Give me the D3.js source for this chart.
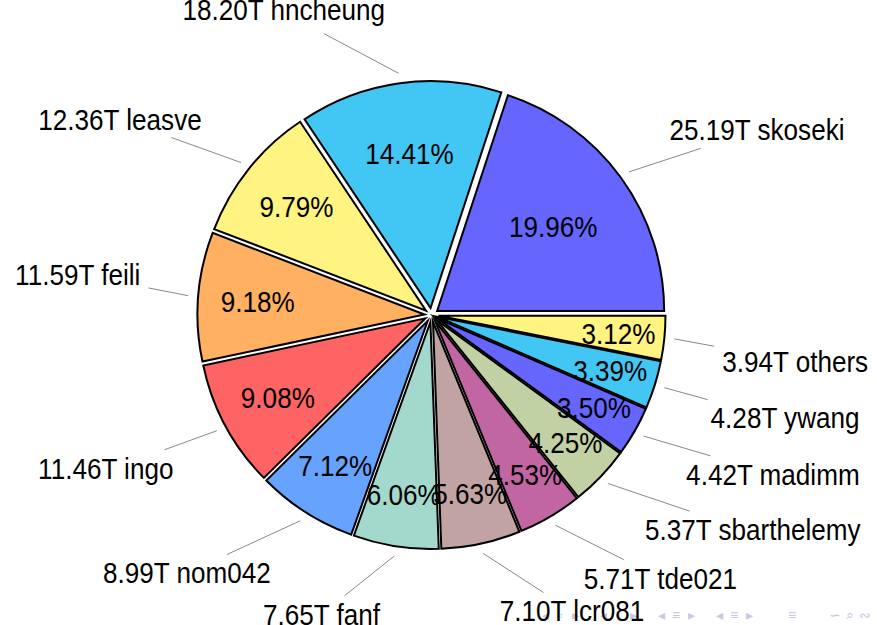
<!DOCTYPE html>
<html>
<head>
<meta charset="utf-8">
<script src="https://cdn.jsdelivr.net/npm/d3@7"></script>
<style>
  body { margin: 0; background: #fff; }
  svg { display: block; }
</style>
</head>
<body>
<div id="chart"></div>
<script>
// slice data, counterclockwise from 3 o'clock
const names = ["skoseki", "hncheung", "leasve", "feili", "ingo", "nom042", "fanf",
  "lcr081", "tde021", "sbarthelemy", "madimm", "ywang", "others"];
const amounts = ["25.19T", "18.20T", "12.36T", "11.59T", "11.46T", "8.99T", "7.65T",
  "7.10T", "5.71T", "5.37T", "4.42T", "4.28T", "3.94T"];
const percents = [19.96, 14.41, 9.79, 9.18, 9.08, 7.12, 6.06, 5.63, 4.53, 4.25, 3.50, 3.39, 3.12];
const colors = ["#6666ff", "#42c6f3", "#fff381", "#ffb061", "#ff6464", "#66a3ff", "#a3d9cc",
  "#c2a3a3", "#c266a3", "#c2d1a3", "#6666ff", "#42c6f3", "#fff381"];
const navGroups = [["◂", "▫", "▸"], ["◂", "▫", "▸"], ["◂", "≡", "▸"], ["◂", "≡", "▸"], ["≡"], ["∽", "⌕", "∾"]];

const width = 877, height = 625;
const cx = 431.5, cy = 315, r = 227;
const explode = 7, pinStart = 10, pinDist = 40, pad = 8;
const fs = 29, sx = 0.9, capH = 0.72 * fs, depth = 0.2 * fs;

const data = names.map((n, i) => ({ name: n, amount: amounts[i], pct: percents[i], color: colors[i] }));

const svg = d3.select("#chart").append("svg")
  .attr("width", width).attr("height", height)
  .style("font-family", "'Liberation Sans', Arial, sans-serif");

// beamer navigation symbols
const navX = d3.scalePoint().domain(d3.range(navGroups.length)).range([560, 850]);
const nav = svg.append("g")
  .attr("font-size", 14)
  .attr("fill", "#c8c8e0")
  .attr("text-anchor", "middle");
navGroups.forEach((g, gi) => {
  g.forEach((s, i) => {
    nav.append("text")
      .attr("x", navX(gi) + (i - (g.length - 1) / 2) * 15)
      .attr("y", 620)
      .text(s);
  });
});

const pie = d3.pie().sort(null).value(d => d.pct)
  .startAngle(Math.PI / 2).endAngle(Math.PI / 2 - 2 * Math.PI);
const arc = d3.arc().innerRadius(0).outerRadius(r);

const arcs = pie(data).map(a => {
  const phi = (a.startAngle + a.endAngle) / 2;
  const dir = [Math.sin(phi), -Math.cos(phi)];
  let theta = (90 - phi * 180 / Math.PI) % 360;
  if (theta < 0) theta += 360;
  const span = Math.abs(a.endAngle - a.startAngle) * 180 / Math.PI;
  const apex = [cx + explode * dir[0], cy + explode * dir[1]];
  const f = 0.8 + Math.max(Math.min((span - 10) / 110 * -0.3, 0), -0.5);
  return { ...a, dir, theta, apex, f };
});

svg.append("g").selectAll("path")
  .data(arcs)
  .join("path")
  .attr("transform", d => `translate(${d.apex[0]},${d.apex[1]})`)
  .attr("d", arc)
  .attr("fill", d => d.data.color)
  .attr("stroke", "#000")
  .attr("stroke-width", 2)
  .attr("stroke-linejoin", "miter")
  .attr("stroke-miterlimit", 10);

// percentages inside
svg.append("g").selectAll("text")
  .data(arcs)
  .join("text")
  .attr("transform", d => {
    const x = d.apex[0] + d.f * r * d.dir[0];
    const y = d.apex[1] + d.f * r * d.dir[1] + capH / 2;
    return `translate(${x},${y}) scale(${sx},1)`;
  })
  .attr("text-anchor", "middle")
  .attr("font-size", fs)
  .attr("fill", "#000")
  .text(d => d.data.pct.toFixed(2) + "%");

// outer labels with pins
const pins = svg.append("g");
const labels = svg.append("g");

arcs.forEach(d => {
  const node = [d.apex[0] + (r + pinStart) * d.dir[0], d.apex[1] + (r + pinStart) * d.dir[1]];
  const corner = [node[0] + pinDist * d.dir[0], node[1] + pinDist * d.dir[1]];
  const label = `${d.data.amount} ${d.data.name}`;

  const t = labels.append("text")
    .attr("font-size", fs)
    .attr("fill", "#000")
    .text(label);
  const tw = t.node().getComputedTextLength() * sx;
  const dp = /[gjpqy]/.test(label) ? depth : 0;
  const bw = tw + 2 * pad, bh = capH + dp + 2 * pad;

  const right = d.theta > 90 && d.theta < 270;
  const top = d.theta > 180;
  const left = right ? corner[0] - bw : corner[0];
  const boxTop = top ? corner[1] : corner[1] - bh;
  const baseline = boxTop + pad + capH;

  t.attr("transform", `translate(${left + pad},${baseline}) scale(${sx},1)`);

  const c = [left + bw / 2, boxTop + bh / 2];
  const dx = node[0] - c[0], dy = node[1] - c[1];
  const s = Math.min((bw / 2) / Math.abs(dx), (bh / 2) / Math.abs(dy));
  const end = [c[0] + s * dx, c[1] + s * dy];

  pins.append("line")
    .attr("x1", node[0]).attr("y1", node[1])
    .attr("x2", end[0]).attr("y2", end[1])
    .attr("stroke", "#888")
    .attr("stroke-width", 1);
});
</script>
</body>
</html>
